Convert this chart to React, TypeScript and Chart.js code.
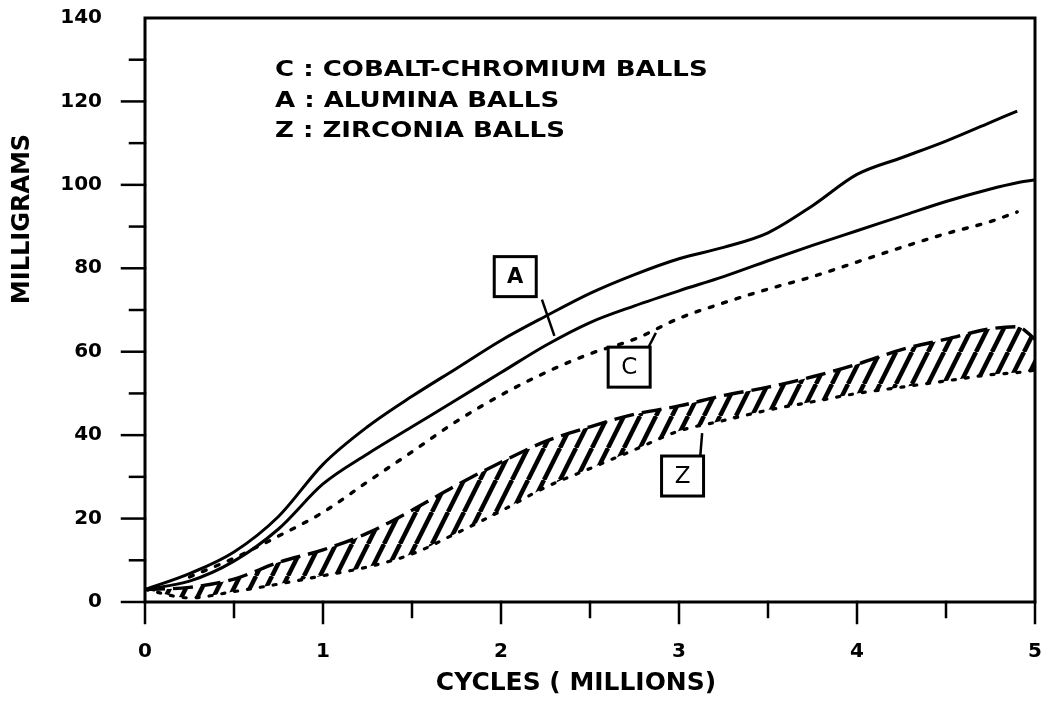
import React, { useEffect, useRef } from 'react';
import { Chart, registerables } from 'chart.js';

Chart.register(...registerables);

// ---- data ----
const cycles = [0, 0.25, 0.5, 0.75, 1, 1.25, 1.5, 1.75, 2, 2.25, 2.5, 2.75, 3, 3.25, 3.5, 3.75, 4, 4.25, 4.5, 4.75, 4.9, 5];

const aluminaUpper = [3, 6.8, 12, 20.5, 33, 42, 49.3, 56, 62.7, 68.5, 74, 78.5, 82.3, 85, 88.5, 95, 102.5, 106.5, 110.5, 115, 117.7, null];
const aluminaLower = [3, 5, 9.8, 17.5, 28.3, 35.5, 42, 48.5, 55, 61.5, 67, 71, 74.6, 78, 81.8, 85.5, 89, 92.5, 96, 99, 100.5, 101.2];
const cobaltChromium = [null, 6, 10.5, 15.8, 21.5, 28.8, 36, 43.3, 49.6, 55, 59.5, 63, 68, 71.7, 75, 78, 81.5, 85, 88.3, 91.2, 93.5, null];
const zirconiaUpper = [3, 3.5, 5.5, 9.5, 12.5, 16.5, 22, 28, 33.5, 38.5, 42, 45, 47, 49.5, 51.5, 54, 57, 60.5, 63, 65.5, 66, 63];
const zirconiaLower = [3, 1, 2.5, 4.3, 6.3, 8.4, 11.5, 16.5, 21.8, 27.5, 32, 36.5, 41, 43.5, 46, 48, 50, 51.5, 53, 54.5, 55, 55.6];

const legendLines = ['C : COBALT-CHROMIUM BALLS', 'A : ALUMINA BALLS', 'Z : ZIRCONIA BALLS'];
const xTitle = 'CYCLES ( MILLIONS)';
const yTitle = 'MILLIGRAMS';

// boxed curve labels, anchored in data units
const boxLetters = ['A', 'C', 'Z'];
const boxCycles = [2.08, 2.72, 3.02];
const boxMg = [78, 56.3, 30.2];
// leader lines: [x1, y1, x2, y2] in data units
const leaderA = [2.23, 72.5, 2.3, 63.8];
const leaderC = [2.83, 61.2, 2.87, 64.5];
const leaderZ = [3.12, 35.2, 3.13, 40.5];

const yMin = 0;
const yMax = 140;
const xMin = 0;
const xMax = 5;

const FONT = "'DejaVu Sans', 'Liberation Sans', sans-serif";

function pts(vals: (number | null)[]) {
  return cycles
    .map((c, i) => ({ x: c, y: vals[i] }))
    .filter((p) => p.y !== null) as { x: number; y: number }[];
}

const decor = {
  id: 'decor',
  afterDatasetsDraw(chart: any) {
    const ctx: CanvasRenderingContext2D = chart.ctx;
    const xs = chart.scales.x;
    const ys = chart.scales.y;
    ctx.save();
    ctx.strokeStyle = '#000';
    ctx.fillStyle = '#000';
    ctx.lineWidth = 2.5;
    for (const l of [leaderA, leaderC, leaderZ]) {
      ctx.beginPath();
      ctx.moveTo(xs.getPixelForValue(l[0]), ys.getPixelForValue(l[1]));
      ctx.lineTo(xs.getPixelForValue(l[2]), ys.getPixelForValue(l[3]));
      ctx.stroke();
    }
    boxLetters.forEach((b, i) => {
      const cx = xs.getPixelForValue(boxCycles[i]);
      const cy = ys.getPixelForValue(boxMg[i]);
      const w = 42, h = 40;
      ctx.fillStyle = '#fff';
      ctx.fillRect(cx - w / 2, cy - h / 2, w, h);
      ctx.lineWidth = 3;
      ctx.strokeRect(cx - w / 2, cy - h / 2, w, h);
      ctx.fillStyle = '#000';
      ctx.font = (b === 'A' ? 'bold 21px ' : '23px ') + FONT;
      ctx.textAlign = 'center';
      ctx.textBaseline = 'middle';
      ctx.fillText(b, cx, cy + 1);
    });
    ctx.restore();
  },
  afterDraw(chart: any) {
    const ctx: CanvasRenderingContext2D = chart.ctx;
    const a = chart.chartArea;
    const xs = chart.scales.x;
    const ys = chart.scales.y;
    ctx.save();
    ctx.strokeStyle = '#000';
    ctx.fillStyle = '#000';
    ctx.lineWidth = 3;
    ctx.lineCap = 'square';
    ctx.strokeRect(a.left, a.top, a.right - a.left, a.bottom - a.top);
    ctx.lineWidth = 2.5;
    for (const t of ys.ticks) {
      const v = t.value;
      if (v >= yMax) continue;
      const y = ys.getPixelForValue(v);
      const len = v % 20 === 0 ? 23 : 15;
      ctx.beginPath();
      ctx.moveTo(a.left - len, y);
      ctx.lineTo(a.left, y);
      ctx.stroke();
    }
    for (const t of xs.ticks) {
      const v = t.value;
      const x = xs.getPixelForValue(v);
      const len = Number.isInteger(v) ? 21 : 15;
      ctx.beginPath();
      ctx.moveTo(x, a.bottom);
      ctx.lineTo(x, a.bottom + len);
      ctx.stroke();
    }
    ctx.font = 'bold 21px ' + FONT;
    ctx.textAlign = 'left';
    ctx.textBaseline = 'alphabetic';
    legendLines.forEach((s, i) => {
      ctx.save();
      ctx.translate(a.left + 130, a.top + 58 + i * 30.5);
      ctx.scale(1.24, 1);
      ctx.fillText(s, 0, 0);
      ctx.restore();
    });
    ctx.save();
    ctx.font = 'bold 24px ' + FONT;
    ctx.textAlign = 'center';
    ctx.translate(576, 690);
    ctx.scale(1.04, 1);
    ctx.fillText(xTitle, 0, 0);
    ctx.restore();
    ctx.save();
    ctx.font = 'bold 24px ' + FONT;
    ctx.textAlign = 'center';
    ctx.textBaseline = 'middle';
    ctx.translate(23, 219);
    ctx.rotate(-Math.PI / 2);
    ctx.fillText(yTitle, 0, 0);
    ctx.restore();
    ctx.restore();
  },
};

export default function App() {
  const ref = useRef<HTMLCanvasElement>(null);
  useEffect(() => {
    document.body.style.margin = '0';
    const canvas = ref.current!;
    const mainCtx = canvas.getContext('2d')!;
    const tile = document.createElement('canvas');
    tile.width = 16;
    tile.height = 32;
    const g = tile.getContext('2d')!;
    g.strokeStyle = '#000';
    g.lineWidth = 4.5;
    for (const dx of [-16, 0, 16]) {
      g.beginPath();
      g.moveTo(dx, 32);
      g.lineTo(dx + 16, 0);
      g.stroke();
    }
    const hatch = mainCtx.createPattern(tile, 'repeat')!;

    Chart.defaults.font.family = FONT;
    const base = {
      pointRadius: 0,
      borderColor: '#000',
      cubicInterpolationMode: 'monotone' as const,
      fill: false,
    };
    const chart = new Chart(canvas, {
      type: 'line',
      data: {
        datasets: [
          { ...base, label: 'Alumina (upper)', data: pts(aluminaUpper), borderWidth: 3 },
          { ...base, label: 'Alumina (lower)', data: pts(aluminaLower), borderWidth: 3 },
          {
            ...base,
            label: 'Cobalt-chromium',
            data: pts(cobaltChromium),
            borderWidth: 3.4,
            borderDash: [4, 10],
            borderCapStyle: 'round',
          },
          {
            ...base,
            label: 'Zirconia (upper)',
            data: pts(zirconiaUpper),
            borderWidth: 3.4,
            borderDash: [20, 8],
          },
          {
            ...base,
            label: 'Zirconia (lower)',
            data: pts(zirconiaLower),
            borderWidth: 3.2,
            borderDash: [3, 10],
            borderCapStyle: 'round',
            fill: '-1',
            backgroundColor: hatch,
          },
        ],
      },
      options: {
        animation: false,
        responsive: false,
        layout: { padding: { top: 18, right: 16, left: 0, bottom: 0 } },
        plugins: {
          legend: { display: false },
          tooltip: { enabled: false },
          title: { display: false },
        },
        scales: {
          x: {
            type: 'linear',
            min: xMin,
            max: xMax,
            border: { display: false },
            grid: {
              display: true,
              drawOnChartArea: false,
              drawTicks: true,
              tickLength: 36,
              tickColor: 'rgba(0,0,0,0)',
            },
            ticks: {
              stepSize: 0.5,
              padding: 2,
              color: '#000',
              maxRotation: 0,
              autoSkip: false,
              font: { family: FONT, size: 20, weight: 'bold' },
              callback: (v: any) => (Number.isInteger(v) ? String(v) : ''),
            },
            afterFit: (s: any) => {
              s.height = 104;
            },
          },
          y: {
            type: 'linear',
            min: yMin,
            max: yMax,
            border: { display: false },
            grid: {
              display: true,
              drawOnChartArea: false,
              drawTicks: true,
              tickLength: 41,
              tickColor: 'rgba(0,0,0,0)',
            },
            ticks: {
              stepSize: 10,
              padding: 2,
              color: '#000',
              autoSkip: false,
              font: { family: FONT, size: 20, weight: 'bold' },
              callback: (v: any) => (v % 20 === 0 ? String(v) : ''),
            },
            afterFit: (s: any) => {
              s.width = 145;
            },
          },
        },
      },
      plugins: [decor],
    });
    return () => chart.destroy();
  }, []);
  return (
    <canvas
      ref={ref}
      width={1051}
      height={706}
      style={{ display: 'block', width: '1051px', height: '706px' }}
    />
  );
}
